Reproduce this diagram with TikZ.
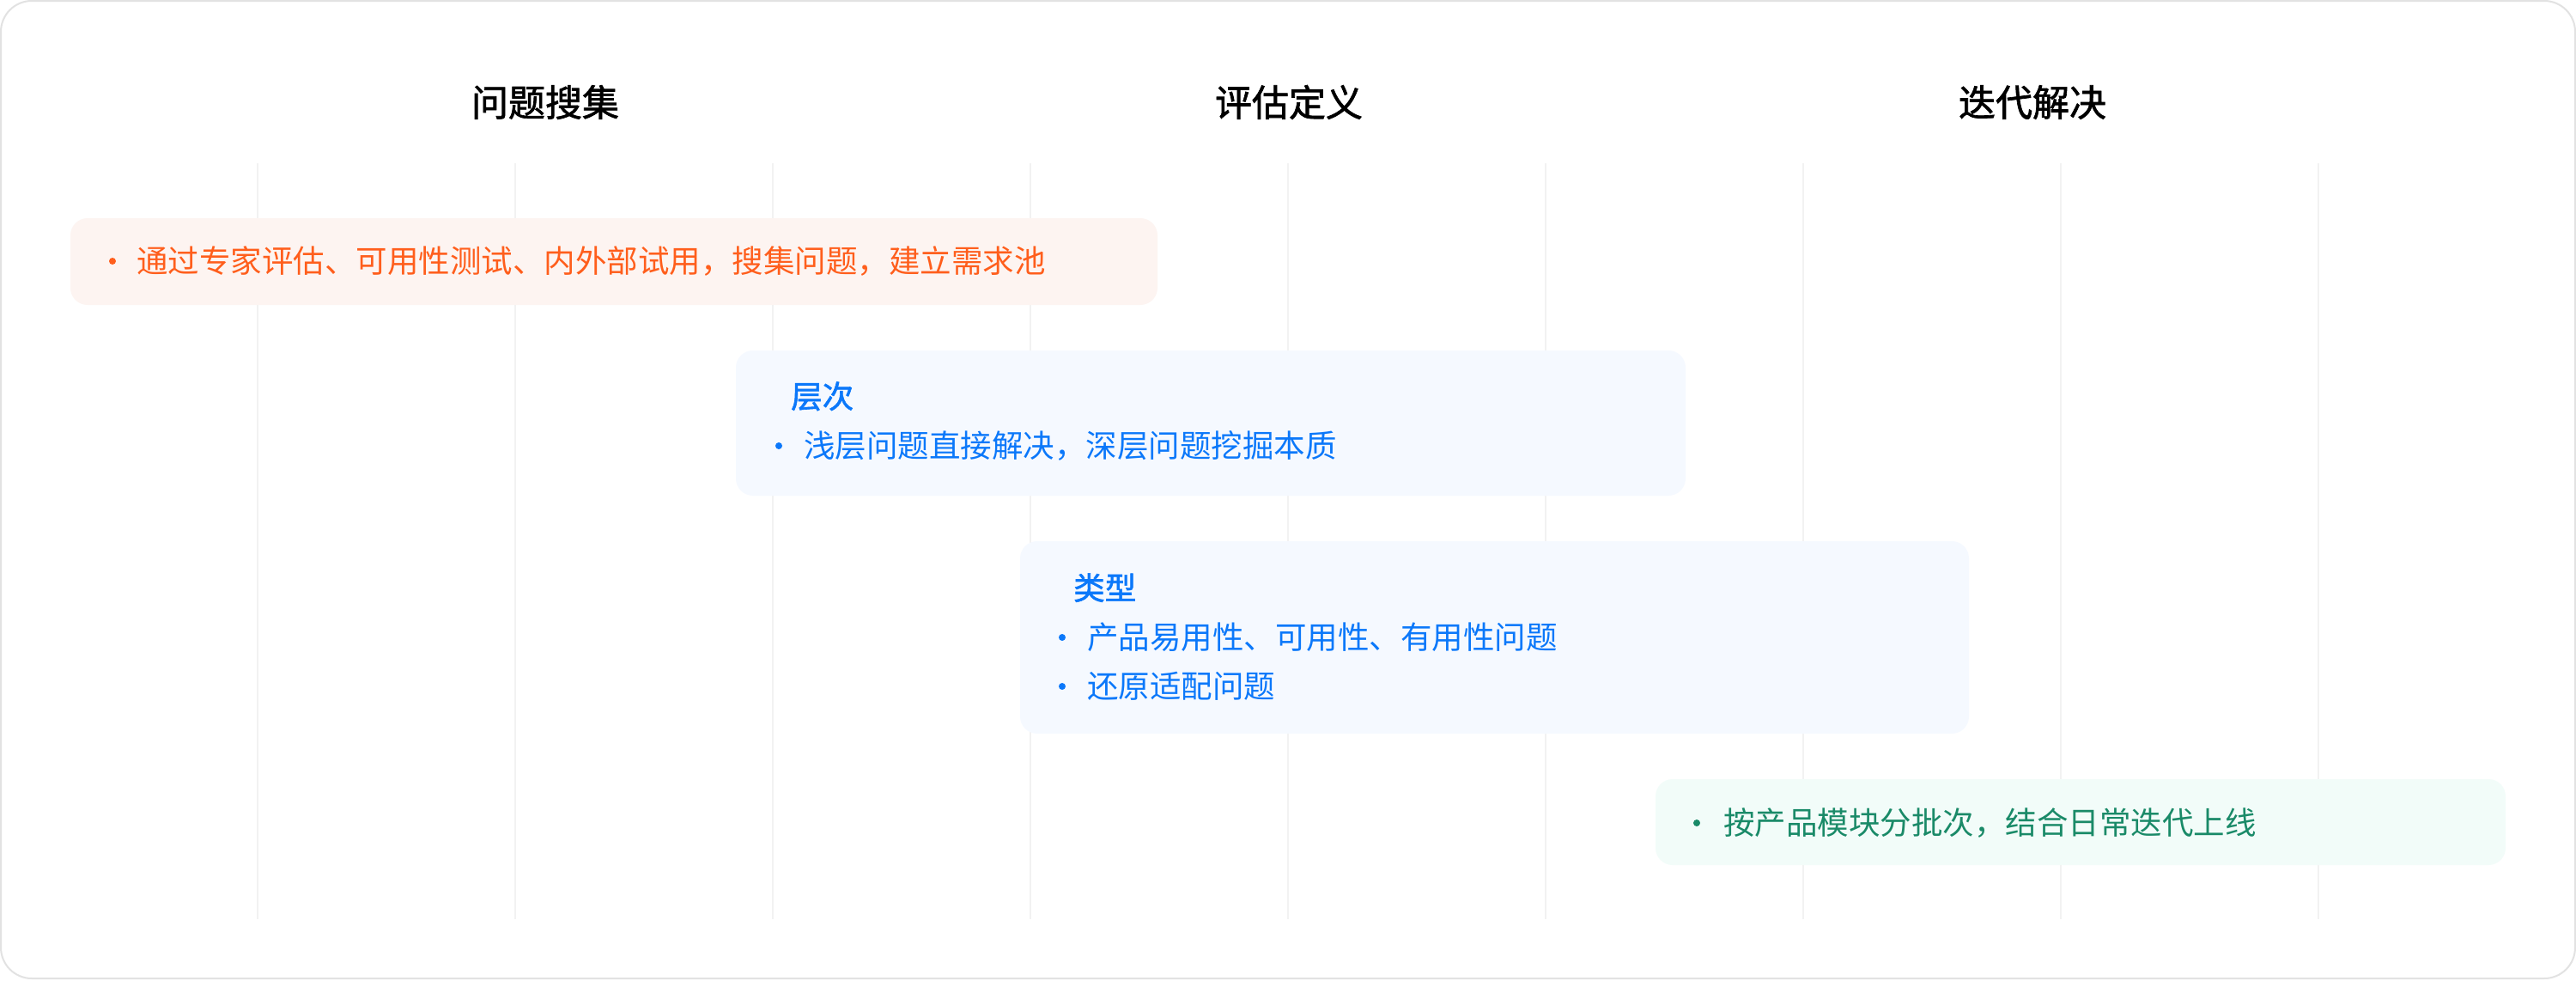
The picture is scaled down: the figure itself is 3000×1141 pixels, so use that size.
\documentclass[tikz,border=0pt]{standalone}
\usepackage{fontspec}
\setmainfont{Noto Sans CJK SC}
\newfontfamily\medfont[FakeBold=1.6]{Noto Sans CJK SC}
\definecolor{frame}{HTML}{E2E2E2}
\definecolor{grid}{HTML}{F2F2F2}
\definecolor{orangeT}{HTML}{FF5E1C}
\definecolor{orangeB}{HTML}{FDF4F1}
\definecolor{blueT}{HTML}{0B78FA}
\definecolor{blueB}{HTML}{F5F9FF}
\definecolor{greenT}{HTML}{1A8A68}
\definecolor{greenB}{HTML}{F2FCF9}
\begin{document}
\begin{tikzpicture}[x=1pt,y=-1pt,
  card/.style={rounded corners=20pt, inner sep=0pt, draw=none},
  phase/.style={font=\fontsize{43}{50}\medfont, text=black, inner sep=0pt},
  item/.style={font=\fontsize{36.5}{42}\selectfont, inner sep=0pt, anchor=base west},
  head/.style={font=\fontsize{36.5}{42}\medfont, inner sep=0pt, anchor=base west},
  dot/.style={circle, inner sep=0pt, minimum size=8pt, draw=none},
  gridline/.style={draw=grid, line width=2pt}
]
\useasboundingbox (0,0) rectangle (3000,1141);
\draw[draw=frame, line width=2pt, fill=white, rounded corners=36pt] (1,1) rectangle (2999,1139);

% grid lines
\foreach \i in {1,...,9}{
  \coordinate (gt\i) at (300*\i,190);
  \coordinate (gb\i) at (300*\i,1070);
  \draw[gridline] (gt\i) -- (gb\i);
}

% phase titles
\node[phase] (p1) at (635,119) {问题搜集};
\node[phase] (p2) at (1501,119) {评估定义};
\node[phase] (p3) at (2367,119) {迭代解决};

% card 1
\node[card, fill=orangeB, minimum width=1266pt, minimum height=101pt] (c1) at (715,304.5) {};
\node[dot, fill=orangeT] (d1) at (131,304) {};
\node[item, text=orangeT] (t1) at (159,317) {通过专家评估、可用性测试、内外部试用，搜集问题，建立需求池};

% card 2
\node[card, fill=blueB, minimum width=1106pt, minimum height=169pt] (c2) at (1410,492.5) {};
\node[head, text=blueT] (h2) at (921,475) {层次};
\node[dot, fill=blueT] (d2) at (907,519) {};
\node[item, text=blueT] (t2) at (936,532) {浅层问题直接解决，深层问题挖掘本质};

% card 3
\node[card, fill=blueB, minimum width=1105pt, minimum height=224pt] (c3) at (1740.5,742) {};
\node[head, text=blueT] (h3) at (1250,698) {类型};
\node[dot, fill=blueT] (d3a) at (1237,742) {};
\node[item, text=blueT] (t3a) at (1266,755) {产品易用性、可用性、有用性问题};
\node[dot, fill=blueT] (d3b) at (1237,799) {};
\node[item, text=blueT] (t3b) at (1266,812) {还原适配问题};

% card 4
\node[card, fill=greenB, minimum width=990pt, minimum height=100pt] (c4) at (2423,957) {};
\node[dot, fill=greenT] (d4) at (1976,958) {};
\node[item, text=greenT] (t4) at (2007,971) {按产品模块分批次，结合日常迭代上线};
\end{tikzpicture}
\end{document}
